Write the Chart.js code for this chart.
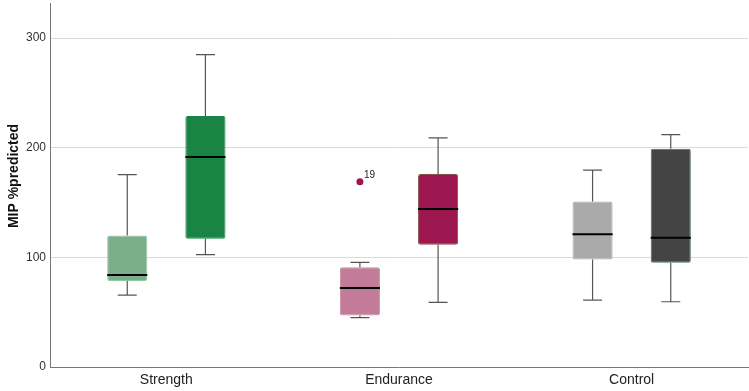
<!DOCTYPE html>
<html>
<head>
<meta charset="utf-8">
<script src="https://cdn.jsdelivr.net/npm/chart.js@4.4.0/dist/chart.umd.min.js"></script>
<style>
  html, body { margin: 0; padding: 0; background: #fff; }
  #wrap { width: 749px; height: 391px; }
</style>
</head>
<body>
<div id="wrap"><canvas id="boxChart"></canvas></div>
<script>
// Groups and box plot stats (min, q1, median, q3, max)
const groups = ['Strength', 'Endurance', 'Control'];
const preMin    = [65.5, 45, 61];
const preQ1     = [78.5, 47, 98];
const preMedian = [84, 72, 121];
const preQ3     = [120, 91, 151];
const preMax    = [175.5, 95.5, 179.5];
const postMin    = [102.5, 59, 59.5];
const postQ1     = [117, 111.5, 95];
const postMedian = [191.5, 144, 118];
const postQ3     = [229, 176, 199];
const postMax    = [285, 209, 212];
// outliers: [groupIndex, value, case label]
const preOutliers = [[1, 169, '19']];
const postOutliers = [];
const yTicks = [0, 100, 200, 300];
const yTitle = 'MIP %predicted';

const preColors = ['#7baf8b', '#c27b98', '#aaaaaa'];
const preBorders = ['#8fc79e', '#c98aa4', '#9bb89f'];
const postColors = ['#1a8445', '#9c1650', '#444444'];
const postBorders = ['#1a8445', '#8a4d4d', '#4f6b55'];

const FONT = '"Liberation Sans", Arial, sans-serif';

const stats = [
    { min: preMin, med: preMedian, max: preMax, out: preOutliers },
    { min: postMin, med: postMedian, max: postMax, out: postOutliers }
];

// Whiskers, medians and outliers drawn on top of the floating bars
const boxPlugin = {
    id: 'boxExtras',
    afterDatasetsDraw(chart) {
        const ctx = chart.ctx;
        const y = chart.scales.y;
        chart.data.datasets.forEach((ds, d) => {
            const meta = chart.getDatasetMeta(d);
            const s = stats[d];
            meta.data.forEach((bar, i) => {
                const x = bar.x;
                const half = bar.width / 2;
                const top = y.getPixelForValue(ds.data[i][1]);
                const bot = y.getPixelForValue(ds.data[i][0]);
                const yMax = y.getPixelForValue(s.max[i]);
                const yMin = y.getPixelForValue(s.min[i]);
                ctx.save();
                ctx.strokeStyle = '#555';
                ctx.lineWidth = 1.2;
                ctx.beginPath();
                ctx.moveTo(x, top); ctx.lineTo(x, yMax);
                ctx.moveTo(x - 9.5, yMax); ctx.lineTo(x + 9.5, yMax);
                ctx.moveTo(x, bot); ctx.lineTo(x, yMin);
                ctx.moveTo(x - 9.5, yMin); ctx.lineTo(x + 9.5, yMin);
                ctx.stroke();
                const ym = y.getPixelForValue(s.med[i]);
                ctx.strokeStyle = '#000';
                ctx.lineWidth = 2;
                ctx.beginPath();
                ctx.moveTo(x - half, ym); ctx.lineTo(x + half, ym);
                ctx.stroke();
                ctx.restore();
            });
            s.out.forEach(o => {
                const bar = meta.data[o[0]];
                const yo = y.getPixelForValue(o[1]);
                ctx.save();
                ctx.fillStyle = postColors[1];
                ctx.beginPath();
                ctx.arc(bar.x, yo, 3.5, 0, Math.PI * 2);
                ctx.fill();
                ctx.fillStyle = '#222';
                ctx.font = '10px ' + FONT;
                ctx.textBaseline = 'bottom';
                ctx.fillText(o[2], bar.x + 4, yo - 1);
                ctx.restore();
            });
        });
        // y axis title, placed like the original (a bit above centre)
        ctx.save();
        ctx.translate(14, 176);
        ctx.rotate(-Math.PI / 2);
        ctx.fillStyle = '#111';
        ctx.font = 'bold 14px ' + FONT;
        ctx.textAlign = 'center';
        ctx.textBaseline = 'middle';
        ctx.fillText(yTitle, 0, 0);
        ctx.restore();
    }
};

const ctx = document.getElementById('boxChart').getContext('2d');
const boxChart = new Chart(ctx, {
    type: 'bar',
    data: {
        labels: groups,
        datasets: [{
            label: 'Pre',
            data: preQ1.map((v, i) => [v, preQ3[i]]),
            backgroundColor: preColors,
            borderColor: preBorders,
            borderWidth: 1,
            borderSkipped: false,
            borderRadius: 2
        }, {
            label: 'Post',
            data: postQ1.map((v, i) => [v, postQ3[i]]),
            backgroundColor: postColors,
            borderColor: postBorders,
            borderWidth: 1,
            borderSkipped: false,
            borderRadius: 2
        }]
    },
    options: {
        responsive: true,
        maintainAspectRatio: false,
        animation: false,
        categoryPercentage: 0.672,
        barPercentage: 0.513,
        layout: { padding: { top: 3, right: 1, left: 0, bottom: 0 } },
        plugins: {
            legend: { display: false },
            tooltip: { enabled: false }
        },
        scales: {
            x: {
                grid: { display: false, drawTicks: false },
                border: { display: true, color: '#777', width: 1 },
                ticks: {
                    color: '#222',
                    padding: 5,
                    font: { family: FONT, size: 14 }
                },
                afterFit(scale) {
                    scale.height = 24;
                    scale.paddingLeft = 0;
                    scale.paddingRight = 0;
                }
            },
            y: {
                min: 0,
                max: 332,
                afterBuildTicks(scale) {
                    scale.ticks = yTicks.map(v => ({ value: v }));
                },
                grid: { color: '#d9d9d9', drawTicks: false, lineWidth: 1 },
                border: { display: true, color: '#777', width: 1 },
                ticks: {
                    color: '#333',
                    padding: 4,
                    font: { family: FONT, size: 12 }
                },
                afterFit(scale) {
                    scale.width = 50;
                    scale.paddingTop = 0;
                    scale.paddingBottom = 0;
                }
            }
        }
    },
    plugins: [boxPlugin]
});
</script>
</body>
</html>
